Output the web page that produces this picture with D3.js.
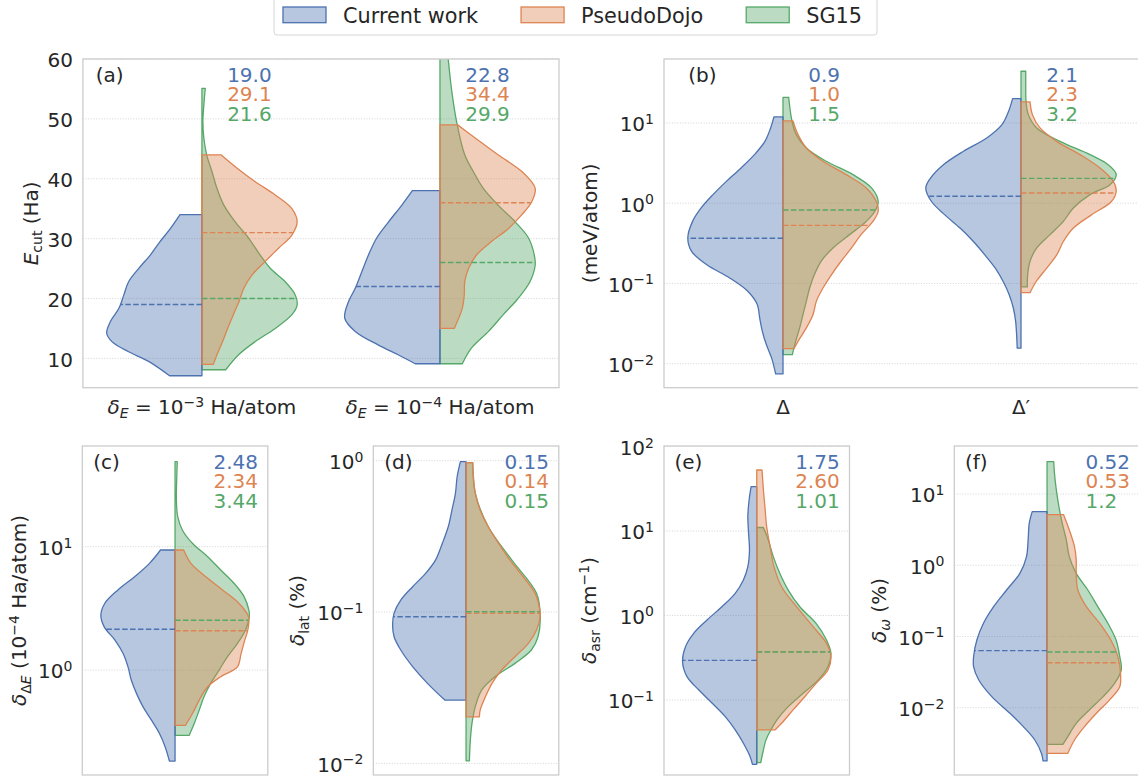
<!DOCTYPE html>
<html>
<head>
<meta charset="utf-8">
<script src="https://cdn.jsdelivr.net/npm/d3@7"></script>
<style>
  body { margin: 0; background: #fff; }
  svg { display: block; }
</style>
</head>
<body>
<div id="chart"></div>
<script>
// ---------- data ----------
const seriesNames = ["Current work", "PseudoDojo", "SG15"];

// each violin half is a list of [value, relative density width] from top to bottom

// (a) cutoff energy
const ecutCats = ["1e-3", "1e-4"];
const ecutCurrent = [
    [[34.0,0.23],[31.7,0.33],[29.5,0.44],[27.3,0.54],[25.0,0.665],[22.8,0.77],[20.6,0.82],[18.4,0.87],[16.2,0.96],[14.2,1.0],[12.8,0.945],[11.1,0.77],[9.5,0.56],[7.1,0.34]],
    [[38.0,0.29],[35.6,0.40],[32.8,0.54],[30.1,0.665],[27.3,0.75],[24.5,0.82],[21.7,0.89],[19.5,0.96],[16.7,1.0],[14.5,0.89],[12.25,0.65],[10.6,0.44],[9.1,0.26]]
];
const ecutDojo = [
    [[44.0,0.20],[41.75,0.37],[39.5,0.56],[37.3,0.77],[35.0,0.945],[32.8,1.0],[30.6,0.945],[28.4,0.805],[26.2,0.665],[23.9,0.525],[21.7,0.44],[19.5,0.39],[17.3,0.33],[15.0,0.27],[12.8,0.217],[10.6,0.158],[9.0,0.12]],
    [[49.0,0.186],[46.8,0.37],[44.0,0.61],[41.2,0.86],[38.4,1.0],[36.2,0.965],[34.0,0.86],[31.7,0.72],[29.5,0.54],[27.3,0.385],[25.0,0.30],[22.8,0.26],[20.6,0.255],[18.4,0.235],[15.0,0.15]]
];
const ecutSG15 = [
    [[55.1,0.035],[52.3,0.02],[49.5,0.01],[46.8,0.02],[44.0,0.05],[41.2,0.105],[38.4,0.158],[35.6,0.23],[32.8,0.35],[30.1,0.49],[27.3,0.61],[25.0,0.72],[22.8,0.875],[20.6,0.98],[18.9,1.0],[17.3,0.945],[15.0,0.77],[12.8,0.56],[10.6,0.385],[8.1,0.25]],
    [[62.0,0.07],[59.8,0.0875],[55.1,0.12],[49.5,0.175],[44.0,0.26],[41.2,0.35],[38.4,0.455],[35.6,0.61],[32.8,0.79],[30.1,0.93],[27.3,0.99],[25.6,1.0],[22.8,0.945],[20.0,0.82],[17.3,0.665],[14.5,0.51],[11.7,0.33],[9.1,0.235]]
];
const ecutMedians = [[19.0, 22.0], [31.0, 36.0], [20.0, 26.0]];
const ecutMeans = [["19.0", "22.8"], ["29.1", "34.4"], ["21.6", "29.9"]];
const ecutTicks = [10, 20, 30, 40, 50, 60];
const ecutTickLabels = [
    [{t:"δ",it:1},{t:"E",it:1,sub:1},{t:" = 10"},{t:"−3",sup:1},{t:" Ha/atom"}],
    [{t:"δ",it:1},{t:"E",it:1,sub:1},{t:" = 10"},{t:"−4",sup:1},{t:" Ha/atom"}]
];

// (b) Delta gauge
const deltaCats = ["D", "Dp"];
const deltaCurrent = [
    [[11.9,0.095],[8.67,0.13],[5.90,0.19],[4.03,0.30],[2.75,0.44],[1.87,0.595],[1.28,0.735],[0.873,0.86],[0.594,0.95],[0.369,1.0],[0.251,0.96],[0.171,0.80],[0.117,0.56],[0.0798,0.37],[0.0545,0.27],[0.0372,0.245],[0.0253,0.217],[0.0173,0.175],[0.0118,0.12],[0.00745,0.077]],
    [[20.1,0.088],[14.0,0.13],[9.53,0.20],[6.50,0.36],[4.44,0.605],[3.02,0.815],[2.06,0.95],[1.55,1.0],[1.05,0.94],[0.716,0.80],[0.49,0.64],[0.333,0.50],[0.227,0.38],[0.155,0.27],[0.105,0.186],[0.0719,0.123],[0.0491,0.08],[0.0335,0.056],[0.0229,0.046],[0.0156,0.04]]
];
const deltaDojo = [
    [[10.6,0.105],[7.16,0.158],[4.88,0.245],[3.33,0.42],[2.27,0.665],[1.55,0.875],[1.05,0.98],[0.794,1.0],[0.594,0.945],[0.406,0.82],[0.277,0.72],[0.189,0.61],[0.129,0.51],[0.0877,0.42],[0.0598,0.35],[0.0408,0.315],[0.0279,0.245],[0.019,0.158],[0.0154,0.115]],
    [[18.3,0.095],[12.7,0.12],[8.67,0.20],[5.90,0.375],[4.03,0.62],[2.75,0.83],[1.87,0.97],[1.41,1.0],[1.05,0.95],[0.716,0.74],[0.49,0.55],[0.333,0.445],[0.227,0.375],[0.155,0.27],[0.105,0.158],[0.0767,0.095]]
];
const deltaSG15 = [
    [[20.9,0.06],[14.0,0.077],[10.5,0.095],[7.16,0.14],[4.88,0.245],[3.33,0.455],[2.27,0.735],[1.55,0.93],[1.05,1.0],[0.794,0.965],[0.594,0.875],[0.406,0.70],[0.277,0.525],[0.189,0.40],[0.129,0.33],[0.0877,0.28],[0.0598,0.245],[0.0408,0.21],[0.0279,0.175],[0.019,0.133],[0.013,0.098]],
    [[44.1,0.05],[27.3,0.05],[18.6,0.053],[12.7,0.077],[8.67,0.165],[5.90,0.41],[4.03,0.725],[3.02,0.915],[2.27,1.0],[1.70,0.935],[1.28,0.725],[0.873,0.55],[0.594,0.445],[0.406,0.305],[0.277,0.165],[0.189,0.095],[0.129,0.07],[0.0904,0.067]]
];
const deltaMedians = [[0.366, 1.22], [0.53, 1.34], [0.824, 2.04]];
const deltaMeans = [["0.9", "2.1"], ["1.0", "2.3"], ["1.5", "3.2"]];
const deltaTicks = [1e-2, 1e-1, 1e0, 1e1];
const deltaTickLabels = [[{t:"Δ"}], [{t:"Δ"},{t:"′"}]];

// (c) energy difference
const dECurrent = [[[9.4,0.196],[7.33,0.344],[5.71,0.545],[4.46,0.77],[3.48,0.946],[2.79,1.0],[2.24,0.955],[1.75,0.81],[1.36,0.70],[1.06,0.634],[0.83,0.59],[0.647,0.52],[0.505,0.433],[0.394,0.32],[0.306,0.21],[0.239,0.134],[0.183,0.076]]];
const dEDojo = [[[9.4,0.116],[7.33,0.214],[5.71,0.415],[4.46,0.64],[3.48,0.86],[2.70,0.99],[2.11,0.98],[1.75,0.94],[1.36,0.89],[1.06,0.84],[0.883,0.616],[0.733,0.44],[0.571,0.326],[0.446,0.237],[0.356,0.14]]];
const dESG15 = [[[48.9,0.03],[34.7,0.022],[23.9,0.018],[17.5,0.036],[13.6,0.10],[10.6,0.237],[8.3,0.44],[6.47,0.616],[5.05,0.795],[3.94,0.93],[3.06,0.995],[2.70,1.0],[2.11,0.95],[1.64,0.84],[1.28,0.705],[1.0,0.594],[0.78,0.48],[0.608,0.39],[0.474,0.326],[0.37,0.26],[0.295,0.19]]];
const dEMedians = [[2.14], [2.08], [2.53]];
const dEMeans = [["2.48"], ["2.34"], ["3.44"]];
const dETicks = [1, 10];

// (d) lattice parameter
const latCurrent = [[[0.985,0.076],[0.783,0.12],[0.608,0.143],[0.472,0.19],[0.366,0.24],[0.284,0.32],[0.221,0.41],[0.180,0.545],[0.147,0.72],[0.120,0.88],[0.0984,0.97],[0.082,0.99],[0.0687,0.97],[0.0561,0.88],[0.0436,0.72],[0.0338,0.52],[0.0262,0.286]]];
const latDojo = [[[0.97,0.09],[0.783,0.10],[0.608,0.125],[0.472,0.19],[0.366,0.30],[0.284,0.44],[0.221,0.59],[0.171,0.77],[0.133,0.93],[0.103,0.995],[0.093,1.0],[0.076,0.95],[0.0621,0.84],[0.0507,0.66],[0.0414,0.48],[0.0338,0.35],[0.0275,0.26],[0.0225,0.19],[0.0203,0.18]]];
const latSG15 = [[[0.97,0.09],[0.608,0.125],[0.366,0.30],[0.221,0.615],[0.133,0.95],[0.093,1.0],[0.0687,0.97],[0.0561,0.88],[0.0458,0.66],[0.0374,0.39],[0.0305,0.21],[0.0237,0.125],[0.0184,0.08],[0.0143,0.058],[0.0104,0.045]]];
const latMedians = [[0.093], [0.098], [0.1005]];
const latMeans = [["0.15"], ["0.14"], ["0.15"]];
const latTicks = [1e-2, 1e-1, 1e0];

// (e) acoustic sum rule
const asrCurrent = [[[33.5,0.076],[23.3,0.103],[14.8,0.12],[9.38,0.11],[5.96,0.098],[3.78,0.12],[2.63,0.18],[1.83,0.29],[1.27,0.47],[0.885,0.67],[0.615,0.85],[0.428,0.96],[0.284,1.0],[0.189,0.94],[0.131,0.78],[0.0914,0.60],[0.0635,0.424],[0.0442,0.29],[0.0307,0.18],[0.0214,0.09],[0.0173,0.058]]];
const asrDojo = [[[52.7,0.071],[30.5,0.09],[19.4,0.11],[11.2,0.134],[6.53,0.18],[3.78,0.232],[2.19,0.335],[1.27,0.536],[0.738,0.76],[0.468,0.94],[0.326,1.0],[0.226,0.96],[0.157,0.80],[0.110,0.65],[0.0762,0.49],[0.053,0.335],[0.0442,0.245]]];
const asrSG15 = [[[11.0,0.09],[7.82,0.156],[4.97,0.223],[3.16,0.31],[2.0,0.424],[1.27,0.58],[0.807,0.80],[0.513,0.94],[0.356,1.0],[0.248,0.96],[0.173,0.83],[0.12,0.625],[0.0834,0.424],[0.0579,0.27],[0.0442,0.19],[0.0337,0.125],[0.0234,0.08],[0.0181,0.054]]];
const asrMedians = [[0.294], [0.373], [0.37]];
const asrMeans = [["1.75"], ["2.60"], ["1.01"]];
const asrTicks = [1e-1, 1e0, 1e1, 1e2];

// (f) phonon frequencies
const omCurrent = [[[5.65,0.20],[3.87,0.24],[2.26,0.255],[1.32,0.277],[0.769,0.366],[0.449,0.545],[0.262,0.72],[0.153,0.857],[0.0891,0.946],[0.052,0.99],[0.0377,0.99],[0.0245,0.92],[0.0143,0.745],[0.00834,0.50],[0.00542,0.32],[0.00352,0.165],[0.00229,0.076],[0.00179,0.054]]];
const omDojo = [[[5.13,0.223],[3.13,0.30],[1.82,0.37],[1.18,0.393],[0.769,0.393],[0.449,0.415],[0.262,0.53],[0.153,0.71],[0.0891,0.86],[0.052,0.955],[0.0303,0.99],[0.0197,0.98],[0.0128,0.84],[0.00834,0.665],[0.00542,0.505],[0.00352,0.37],[0.00229,0.28]]];
const omSG15 = [[[28.4,0.09],[19.5,0.10],[11.4,0.125],[6.64,0.16],[3.87,0.205],[2.26,0.26],[1.32,0.30],[0.769,0.393],[0.449,0.55],[0.262,0.684],[0.153,0.82],[0.0891,0.93],[0.052,0.98],[0.0338,1.0],[0.022,0.91],[0.0143,0.755],[0.00929,0.57],[0.00603,0.393],[0.00393,0.28],[0.00306,0.214]]];
const omMedians = [[0.0632], [0.0428], [0.0605]];
const omMeans = [["0.52"], ["0.53"], ["1.2"]];
const omTicks = [1e-2, 1e-1, 1e0, 1e1];

// axis titles
const ylabA = [{t:"E",it:1},{t:"cut",sub:1},{t:" (Ha)"}];
const ylabB = [{t:"(meV/atom)"}];
const ylabC = [{t:"δ",it:1},{t:"Δ",sub:1},{t:"E",sub:1,it:1},{t:" (10"},{t:"−4",sup:1},{t:" Ha/atom)"}];
const ylabD = [{t:"δ",it:1},{t:"lat",sub:1},{t:" (%)"}];
const ylabE = [{t:"δ",it:1},{t:"asr",sub:1},{t:" (cm"},{t:"−1",sup:1},{t:")"}];
const ylabF = [{t:"δ",it:1},{t:"ω",sub:1,it:1},{t:" (%)"}];

// ---------- style ----------
const W = 1138, H = 780;
const palette = ["#4c72b0", "#dd8452", "#55a868"];
const sides = [-1, 1, 1];
const drawOrder = [2, 0, 1];
const textColor = "#262626";
const FS = 20;

const svg = d3.select("#chart").append("svg")
    .attr("width", W)
    .attr("height", H)
    .style("font-family", "'DejaVu Sans', sans-serif")
    .attr("fill", textColor);

// mathtext-like rich text: segments with italic / sub / sup
function rich(textSel, segs, size) {
    let shift = 0;
    segs.forEach(s => {
        const target = s.sub ? 0.22 * size : s.sup ? -0.37 * size : 0;
        const ts = textSel.append("tspan").text(s.t).attr("dy", target - shift);
        shift = target;
        if (s.sub || s.sup) ts.attr("font-size", size * 0.7);
        if (s.it) ts.attr("font-style", "italic");
    });
}

function powLabel(v) {
    const e = Math.round(Math.log10(v));
    return [{t: "10"}, {t: (e < 0 ? "−" : "") + Math.abs(e), sup: 1}];
}

function widthAt(profile, v, y) {
    const py = y(v);
    for (let k = 0; k < profile.length - 1; k++) {
        const y0 = y(profile[k][0]), y1 = y(profile[k + 1][0]);
        if ((py - y0) * (py - y1) <= 0) {
            const t = (py - y0) / ((y1 - y0) || 1);
            return profile[k][1] + t * (profile[k + 1][1] - profile[k][1]);
        }
    }
    return 0;
}

const topRow = {y: 59, h: 328.7};
const botRow = {y: 446, h: 329};

const panels = [
    {key: "a", x: 82.9, w: 476.1, row: topRow, log: false, yDomain: [5.1, 60], ticks: ecutTicks,
     cats: ecutCats, series: [ecutCurrent, ecutDojo, ecutSG15], medians: ecutMedians, means: ecutMeans,
     xLabels: ecutTickLabels, yLabel: ylabA, yLabelX: -45, labelDx: 12.8, annFrac: 0.106},
    {key: "b", x: 664, w: 476, row: topRow, log: true, yDomain: [0.00502, 62.7], ticks: deltaTicks,
     cats: deltaCats, series: [deltaCurrent, deltaDojo, deltaSG15], medians: deltaMedians, means: deltaMeans,
     xLabels: deltaTickLabels, yLabel: ylabB, yLabelX: -67.5, labelDx: 24.3, annFrac: 0.106},
    {key: "c", x: 82.3, w: 185.5, row: botRow, log: true, yDomain: [0.141, 65.5], ticks: dETicks,
     cats: ["c"], series: [dECurrent, dEDojo, dESG15], medians: dEMedians, means: dEMeans,
     yLabel: ylabC, yLabelX: -56, labelDx: 11, annFrac: 0.207},
    {key: "d", x: 373.3, w: 185.5, row: botRow, log: true, yDomain: [0.00838, 1.25], ticks: latTicks,
     cats: ["d"], series: [latCurrent, latDojo, latSG15], medians: latMedians, means: latMeans,
     yLabel: ylabD, yLabelX: -69, labelDx: 11, annFrac: 0.207},
    {key: "e", x: 664, w: 185.5, row: botRow, log: true, yDomain: [0.01294, 101.4], ticks: asrTicks,
     cats: ["e"], series: [asrCurrent, asrDojo, asrSG15], medians: asrMedians, means: asrMeans,
     yLabel: ylabE, yLabelX: -68, labelDx: 10.5, annFrac: 0.207},
    {key: "f", x: 954.3, w: 185.5, row: botRow, log: true, yDomain: [0.001135, 47.2], ticks: omTicks,
     cats: ["f"], series: [omCurrent, omDojo, omSG15], medians: omMedians, means: omMeans,
     yLabel: ylabF, yLabelX: -68.5, labelDx: 10.7, annFrac: 0.207}
];

function drawPanel(p) {
    const h = p.row.h;
    const g = svg.append("g").attr("transform", `translate(${p.x},${p.row.y})`);
    const x = d3.scaleBand().domain(p.cats).range([0, p.w]);
    const y = (p.log ? d3.scaleLog() : d3.scaleLinear()).domain(p.yDomain).range([h, 0]);
    const bw = x.bandwidth();
    const hw = 0.4 * bw;

    g.append("clipPath").attr("id", "clip-" + p.key)
        .append("rect").attr("width", p.w).attr("height", h);

    // grid
    g.append("g").selectAll("line").data(p.ticks).join("line")
        .attr("x1", 0).attr("x2", p.w)
        .attr("y1", d => y(d)).attr("y2", d => y(d))
        .attr("stroke", "#cfcfcf").attr("stroke-width", 0.9)
        .attr("stroke-dasharray", "1,1.65");

    const plot = g.append("g").attr("clip-path", `url(#clip-${p.key})`);

    p.cats.forEach((cat, i) => {
        const cx = x(cat) + bw / 2;
        drawOrder.forEach(s => {
            const side = sides[s];
            const area = d3.area()
                .y(d => y(d[0]))
                .x0(cx)
                .x1(d => cx + side * d[1] * hw)
                .curve(d3.curveCatmullRom.alpha(0.5));
            plot.append("path")
                .attr("d", area(p.series[s][i]))
                .attr("fill", palette[s]).attr("fill-opacity", 0.4)
                .attr("stroke", palette[s]).attr("stroke-width", 1.3)
                .attr("stroke-linejoin", "round");
        });
        [0, 1, 2].forEach(s => {
            const m = p.medians[s][i];
            const wm = widthAt(p.series[s][i], m, y);
            plot.append("line")
                .attr("x1", cx).attr("x2", cx + sides[s] * wm * hw)
                .attr("y1", y(m)).attr("y2", y(m))
                .attr("stroke", palette[s]).attr("stroke-width", 1.4)
                .attr("stroke-dasharray", "5.5,2.4");
        });
        // mean annotations
        [0, 1, 2].forEach(s => {
            g.append("text")
                .attr("x", cx + p.annFrac * bw)
                .attr("y", 22.7 + s * 19.7)
                .attr("font-size", FS)
                .attr("fill", palette[s])
                .text(p.means[s][i]);
        });
        if (p.xLabels) {
            const t = g.append("text")
                .attr("x", cx).attr("y", h + 26.3)
                .attr("text-anchor", "middle")
                .attr("font-size", FS);
            rich(t, p.xLabels[i], FS);
        }
    });

    // frame
    g.append("rect")
        .attr("width", p.w).attr("height", h)
        .attr("fill", "none").attr("stroke", "#cccccc").attr("stroke-width", 1.3);

    // y tick labels
    p.ticks.forEach(tv => {
        const t = g.append("text")
            .attr("x", -10).attr("y", y(tv) + 8.4)
            .attr("text-anchor", "end")
            .attr("font-size", FS);
        if (p.log) rich(t, powLabel(tv), FS);
        else t.text(tv);
    });

    // y title
    const yl = g.append("text")
        .attr("transform", `translate(${p.yLabelX},${h / 2}) rotate(-90)`)
        .attr("text-anchor", "middle")
        .attr("font-size", FS);
    rich(yl, p.yLabel, FS);

    // panel letter
    g.append("text")
        .attr("x", p.labelDx).attr("y", 22.7)
        .attr("font-size", FS)
        .text(`(${p.key})`);
}

panels.forEach(drawPanel);

// legend
const legend = svg.append("g");
const legendBox = legend.append("rect")
    .attr("x", 274).attr("y", -6).attr("width", 603).attr("height", 41)
    .attr("rx", 3)
    .attr("fill", "#fff").attr("fill-opacity", 0.8)
    .attr("stroke", "#d6d6d6").attr("stroke-width", 1);
let lx = 283;
seriesNames.forEach((name, s) => {
    legend.append("rect")
        .attr("x", lx).attr("y", 7).attr("width", 43).attr("height", 15.7)
        .attr("fill", palette[s]).attr("fill-opacity", 0.4)
        .attr("stroke", palette[s]).attr("stroke-width", 1.3);
    const t = legend.append("text")
        .attr("x", lx + 60).attr("y", 22.6)
        .attr("font-size", 20.8)
        .text(name);
    lx = lx + 60 + t.node().getComputedTextLength() + 43;
});
</script>
</body>
</html>
